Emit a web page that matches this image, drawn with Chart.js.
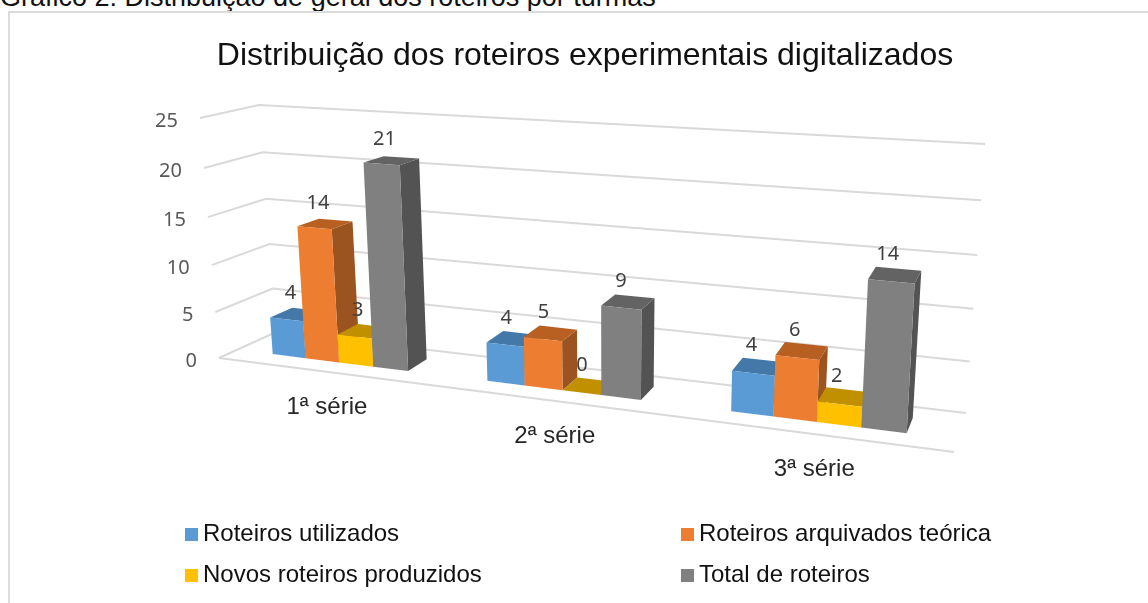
<!DOCTYPE html>
<html>
<head>
<meta charset="utf-8">
<style>
  html, body { margin: 0; background: #fff; overflow: hidden; }
  #legenda { position: absolute; left: 0; top: -18px; font: 27px/31px "Liberation Sans", Arial, sans-serif; color: #111; white-space: nowrap; }
  #moldura { position: absolute; left: 8px; top: 11px; right: 0; height: 620px; border-top: 2px solid #dcdcdc; border-left: 2px solid #dcdcdc; }
  #area { position: absolute; left: 0; top: 0; width: 1148px; height: 603px; }
</style>
</head>
<body>
<div id="legenda">Gráfico 2: Distribuição de geral dos roteiros por turmas</div>
<div id="moldura"></div>
<div id="area"><canvas id="grafico" width="1148" height="603"></canvas></div>
<script src="https://cdn.jsdelivr.net/npm/chart.js@4/dist/chart.umd.min.js"></script>
<script>
const titulo = 'Distribuição dos roteiros experimentais digitalizados';
const turmas = ['1ª série', '2ª série', '3ª série'];
const utilizados = [4, 4, 4];
const arquivados = [14, 5, 6];
const novos = [3, 0, 2];
const totais = [21, 9, 14];

const nomesSeries = ['Roteiros utilizados', 'Roteiros arquivados teórica', 'Novos roteiros produzidos', 'Total de roteiros'];
const coresFrente = ['#5B9BD5', '#ED7D31', '#FFC000', '#808080'];
const coresTopo = ['#4478A8', '#B85F22', '#C09000', '#636363'];
const coresLado = ['#3F6E99', '#9B5320', '#A37B00', '#535353'];

// Cantos da "caixa" 3D na tela: f = frente, t = fundo, b = chao, c = teto, l/r = esquerda/direita
const caixa = {
    fbl: [219, 358], fbr: [954, 452], tbl: [276, 332], tbr: [966, 413],
    fcl: [200, 118], fcr: [970, 180], tcl: [259, 105], tcr: [985, 144]
};
// As barras ficam um pouco mais altas que a grade na direita
const tetoBarras = { fcl: [200, 115], fcr: [970, 172] };
const kU = 1.215;  // perspectiva no eixo das categorias
const kV = 1.055;  // perspectiva no eixo dos valores
const wFrente = 0.32, wFundo = 0.72; // profundidade das barras

function lerp(a, b, t) { return [a[0] + (b[0] - a[0]) * t, a[1] + (b[1] - a[1]) * t]; }

function projetar(u, v, w, teto) {
    const fcl = teto ? teto.fcl : caixa.fcl, fcr = teto ? teto.fcr : caixa.fcr;
    const uu = u / (u + kU * (1 - u));
    const vv = v / (v + kV * (1 - v));
    const baseF = lerp(caixa.fbl, caixa.fbr, uu);
    const baseT = lerp(caixa.tbl, caixa.tbr, uu);
    const tetoF = lerp(fcl, fcr, uu);
    const tetoT = lerp(caixa.tcl, caixa.tcr, uu);
    return lerp(lerp(baseF, tetoF, vv), lerp(baseT, tetoT, vv), w);
}

function poligono(ctx, pontos, cor) {
    ctx.beginPath();
    pontos.forEach((p, i) => i ? ctx.lineTo(p[0], p[1]) : ctx.moveTo(p[0], p[1]));
    ctx.closePath();
    ctx.fillStyle = cor;
    ctx.fill();
}

const grafico3D = {
    id: 'grafico3D',
    beforeDatasetsDraw(chart) {
        const { ctx, chartArea: a, scales } = chart;
        const normU = x => (x - a.left) / (a.right - a.left);
        const normV = y => (a.bottom - y) / (a.bottom - a.top);

        // Grade
        ctx.save();
        ctx.strokeStyle = '#D9D9D9';
        ctx.lineWidth = 2;
        scales.y.ticks.forEach(t => {
            const v = normV(scales.y.getPixelForValue(t.value));
            const p0 = projetar(0, v, 0), p1 = projetar(0, v, 1), p2 = projetar(1, v, 1);
            ctx.beginPath();
            ctx.moveTo(p0[0], p0[1]);
            ctx.lineTo(p1[0], p1[1]);
            ctx.lineTo(p2[0], p2[1]);
            ctx.stroke();
            // Rotulo do eixo Y
            ctx.fillStyle = '#595959';
            ctx.font = '20px "Noto Sans"';
            ctx.textAlign = 'right';
            ctx.textBaseline = 'middle';
            ctx.fillText(t.label, p0[0] - 22, p0[1] + 3);
        });
        const c0 = projetar(0, 0, 0), c1 = projetar(1, 0, 0);
        ctx.beginPath();
        ctx.moveTo(c0[0], c0[1]);
        ctx.lineTo(c1[0], c1[1]);
        ctx.stroke();

        // Rotulos das categorias
        ctx.fillStyle = '#262626';
        ctx.font = '24px "Liberation Sans"';
        ctx.textAlign = 'center';
        turmas.forEach((nome, i) => {
            const p = projetar(normU(scales.x.getPixelForValue(i)), 0, 0);
            ctx.fillText(nome, p[0] + 4, p[1] + 36);
        });

        // Barras, da esquerda para a direita
        const rotulos = [];
        turmas.forEach((_, i) => {
            chart.data.datasets.forEach((ds, d) => {
                const el = chart.getDatasetMeta(d).data[i];
                const u0 = normU(el.x - el.width / 2), u1 = normU(el.x + el.width / 2);
                const v0 = normV(el.base), v1 = normV(el.y);
                const A = projetar(u0, v1, wFrente, tetoBarras), B = projetar(u1, v1, wFrente, tetoBarras);
                const C = projetar(u1, v0, wFrente, tetoBarras), D = projetar(u0, v0, wFrente, tetoBarras);
                const E = projetar(u0, v1, wFundo, tetoBarras), F = projetar(u1, v1, wFundo, tetoBarras);
                const G = projetar(u1, v0, wFundo, tetoBarras);
                poligono(ctx, [B, F, G, C], coresLado[d]);
                poligono(ctx, [A, E, F, B], coresTopo[d]);
                poligono(ctx, [A, B, C, D], coresFrente[d]);
                const meio = projetar((u0 + u1) / 2, v1, (wFrente + wFundo) / 2, tetoBarras);
                rotulos.push([ds.data[i], meio[0] - 7, meio[1] - 21]);
            });
        });

        // Rotulos de dados
        ctx.fillStyle = '#404040';
        ctx.font = '20px "Noto Sans"';
        rotulos.forEach(r => ctx.fillText(r[0], r[1], r[2]));

        // Legenda em duas colunas
        ctx.font = '24px "Liberation Sans"';
        ctx.textAlign = 'left';
        const colunas = [185, 681], linhas = [534, 575];
        nomesSeries.forEach((nome, d) => {
            const x = colunas[d % 2], y = linhas[d >> 1];
            ctx.fillStyle = coresFrente[d];
            ctx.fillRect(x, y - 6, 13, 13);
            ctx.fillStyle = '#111';
            ctx.fillText(nome, x + 18, y);
        });
        ctx.restore();
        return false; // as barras planas nao sao desenhadas
    }
};

new Chart(document.getElementById('grafico'), {
    type: 'bar',
    data: {
        labels: turmas,
        datasets: [
            { label: nomesSeries[0], data: utilizados, backgroundColor: coresFrente[0] },
            { label: nomesSeries[1], data: arquivados, backgroundColor: coresFrente[1] },
            { label: nomesSeries[2], data: novos, backgroundColor: coresFrente[2] },
            { label: nomesSeries[3], data: totais, backgroundColor: coresFrente[3] }
        ]
    },
    plugins: [grafico3D],
    options: {
        responsive: false,
        animation: false,
        layout: { padding: { left: 22, top: 37, bottom: 60 } },
        datasets: { bar: { categoryPercentage: 0.645, barPercentage: 1 } },
        plugins: {
            legend: { display: false },
            tooltip: { enabled: false },
            title: {
                display: true,
                text: titulo,
                color: '#111',
                font: { family: '"Liberation Sans"', size: 32, weight: 'normal' },
                padding: { top: 0, bottom: 20 }
            }
        },
        scales: {
            x: { display: false },
            y: { display: false, min: 0, max: 25, ticks: { stepSize: 5 } }
        }
    }
});
</script>
</body>
</html>
